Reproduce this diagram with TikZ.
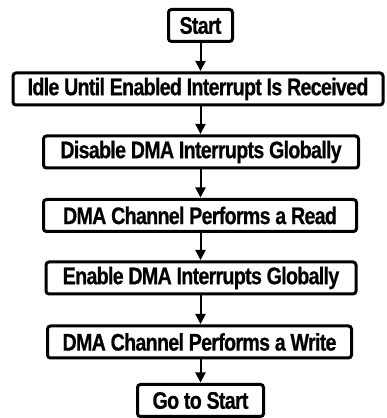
\documentclass[tikz,border=0pt]{standalone}
\usepackage{fontspec}
\setmainfont{Liberation Sans}[FakeStretch=0.82, LetterSpace=-3, BoldFeatures={FakeBold=0.6}]
\usetikzlibrary{arrows.meta}
\tikzset{
  box/.style={draw=black, line width=3pt, rounded corners=3pt, fill=white,
    inner sep=0pt, minimum height=32pt, align=center,
    font=\fontsize{24}{26}\selectfont\bfseries},
  arr/.style={line width=2pt, -{Triangle[width=10pt,length=10pt]}, shorten >=0.5pt}
}
\begin{document}
\begin{tikzpicture}[x=1pt,y=1pt]
\useasboundingbox (0,0) rectangle (386,418);
\node[box, minimum width=64pt]  (start) at (200.5,392.5) {Start};
\node[box, minimum width=370pt] (idle)  at (198,329) {Idle Until Enabled Interrupt Is Received};
\node[box, minimum width=315pt] (dis)   at (201,266) {Disable DMA Interrupts Globally};
\node[box, minimum width=313pt] (read)  at (200,202.5) {DMA Channel Performs a Read};
\node[box, minimum width=310pt] (en)    at (201,140) {Enable DMA Interrupts Globally};
\node[box, minimum width=304pt] (write) at (199.5,76) {DMA Channel Performs a Write};
\node[box, minimum width=126pt] (go)    at (200.5,17.5) {Go to Start};
\draw[arr] (start.south) -- (start.south |- idle.north);
\draw[arr] (start.south |- idle.south) -- (start.south |- dis.north);
\draw[arr] (start.south |- dis.south) -- (start.south |- read.north);
\draw[arr] (start.south |- read.south) -- (start.south |- en.north);
\draw[arr] (start.south |- en.south) -- (start.south |- write.north);
\draw[arr] (start.south |- write.south) -- (start.south |- go.north);
\end{tikzpicture}
\end{document}
